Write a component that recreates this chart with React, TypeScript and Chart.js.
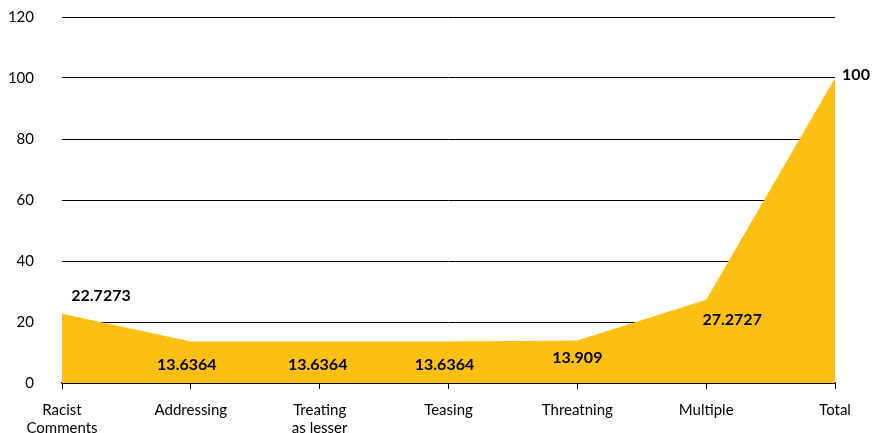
import React, { useEffect, useRef } from "react";
import { Chart, registerables } from "chart.js";

Chart.register(...registerables);

const categories: (string | string[])[] = [
  ["Racist", "Comments"],
  "Addressing",
  ["Treating", "as lesser"],
  "Teasing",
  "Threatning",
  "Multiple",
  "Total",
];
const values: number[] = [22.7273, 13.6364, 13.6364, 13.6364, 13.909, 27.2727, 100];
const valueLabels: string[] = ["22.7273", "13.6364", "13.6364", "13.6364", "13.909", "27.2727", "100"];
const yTicks: number[] = [0, 20, 40, 60, 80, 100, 120];

const labelOffsets: [number, number][] = [
  [39, -18],
  [-4, 23],
  [-2, 23],
  [-4, 23],
  [0, 17],
  [26, 20],
  [21, -3],
];

const valueLabelPlugin = {
  id: "valueLabels",
  afterDatasetsDraw(chart: any) {
    const ctx = chart.ctx;
    const meta = chart.getDatasetMeta(0);
    ctx.save();
    ctx.font = "bold 16px Lato";
    ctx.fillStyle = "#000";
    ctx.textAlign = "center";
    ctx.textBaseline = "middle";
    meta.data.forEach((pt: any, i: number) => {
      const [dx, dy] = labelOffsets[i];
      ctx.fillText(valueLabels[i], pt.x + dx, pt.y + dy);
    });
    ctx.restore();
  },
};

export default function App() {
  const ref = useRef<HTMLCanvasElement>(null);
  useEffect(() => {
    const chart = new Chart(ref.current!, {
      type: "line",
      data: {
        labels: categories,
        datasets: [
          {
            data: values,
            fill: "origin",
            backgroundColor: "rgb(252,191,18)",
            borderWidth: 0,
            borderColor: "rgba(0,0,0,0)",
            pointRadius: 0,
            tension: 0,
          },
        ],
      },
      options: {
        animation: false,
        responsive: false,
        maintainAspectRatio: false,
        layout: { padding: { top: 17, right: 37, left: 0, bottom: 0 }, autoPadding: false },
        plugins: { legend: { display: false }, tooltip: { enabled: false } },
        scales: {
          x: {
            offset: false,
            afterFit: (s: any) => {
              s.height = 50;
              s.paddingLeft = 0;
              s.paddingRight = 0;
            },
            grid: { display: true, drawOnChartArea: false, drawTicks: true, tickLength: 6, color: "#000" },
            border: { display: true, color: "#000", width: 1.5 },
            ticks: {
              color: "#000",
              font: { family: "Lato", size: 15 },
              padding: 12,
              maxRotation: 0,
              autoSkip: false,
            },
          },
          y: {
            min: 0,
            max: 120,
            afterBuildTicks: (s: any) => {
              s.ticks = yTicks.map((v) => ({ value: v }));
            },
            afterFit: (s: any) => {
              s.width = 62;
              s.paddingTop = 0;
              s.paddingBottom = 0;
            },
            grid: { color: "#000", drawTicks: false, lineWidth: 1 },
            border: { display: false },
            ticks: {
              color: "#000",
              font: { family: "Lato", size: 15 },
              padding: 28,
            },
          },
        },
      },
      plugins: [valueLabelPlugin],
    });
    return () => chart.destroy();
  }, []);
  return (
    <div style={{ position: "fixed", left: 0, top: 0, width: 872, height: 433 }}>
      <canvas ref={ref} width={872} height={433} style={{ width: 872, height: 433 }} />
    </div>
  );
}
